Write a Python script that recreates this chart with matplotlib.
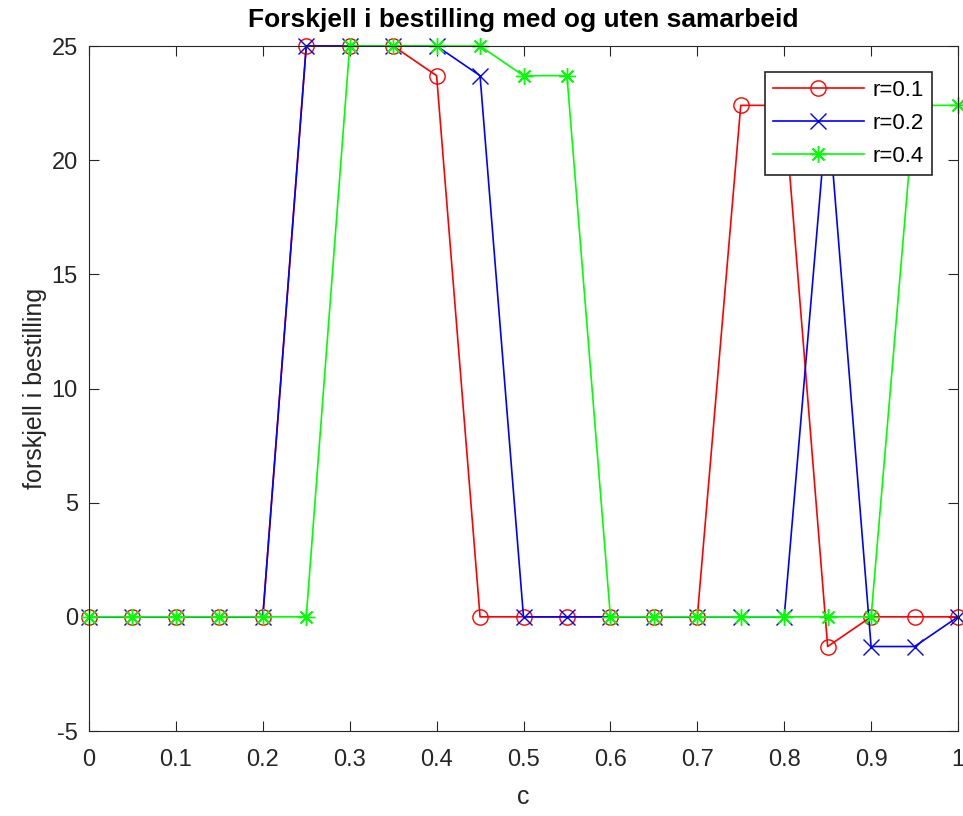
import matplotlib
matplotlib.use('Agg')
import matplotlib.pyplot as plt
import numpy as np

c = np.arange(0, 1.0001, 0.05)

r01 = [0, 0, 0, 0, 0, 25, 25, 25, 23.7, 0, 0, 0, 0, 0, 0, 22.4, 22.4, -1.3, 0, 0, 0]
r02 = [0, 0, 0, 0, 0, 25, 25, 25, 25, 23.7, 0, 0, 0, 0, 0, 0, 0, 22.4, -1.3, -1.3, 0]
r04 = [0, 0, 0, 0, 0, 0, 25, 25, 25, 25, 23.7, 23.7, 0, 0, 0, 0, 0, 0, 0, 22.4, 22.4]

plt.rcParams['font.family'] = ['Liberation Sans', 'DejaVu Sans']
plt.rcParams['axes.unicode_minus'] = False

fig = plt.figure(figsize=(9.63, 8.16), dpi=100)
ax = fig.add_axes([89/963, 1 - 731/816, (958-89)/963, (731-46)/816])

ax.plot(c, r01, '-o', color='r', linewidth=1.2, markersize=11, markerfacecolor='none',
        clip_on=False, label='r=0.1')
ax.plot(c, r02, '-x', color='b', linewidth=1.2, markersize=11, clip_on=False, label='r=0.2')
ax.plot(c, r04, '-', marker=(8, 2, 0), color=(0, 1, 0), linewidth=1.2, markersize=12,
        clip_on=False, label='r=0.4')

ax.set_xlim(0, 1)
ax.set_ylim(-5, 25)
ax.set_xticks(np.arange(0, 1.01, 0.1))
ax.set_xticklabels(['0', '0.1', '0.2', '0.3', '0.4', '0.5', '0.6', '0.7', '0.8', '0.9', '1'])
ax.set_yticks(np.arange(-5, 26, 5))
ax.tick_params(direction='in', top=True, right=True, labelsize=17, length=7, colors='#262626')
ax.tick_params(axis='x', pad=13)
ax.tick_params(axis='y', pad=8)
for s in ax.spines.values():
    s.set_color('#262626')

ax.set_title('Forskjell i bestilling med og uten samarbeid', fontsize=19, fontweight='bold', pad=14)
ax.set_xlabel('c', fontsize=18, color='#262626', labelpad=10)
ax.set_ylabel('forskjell i bestilling', fontsize=18, color='#262626', labelpad=3)

leg = ax.legend(loc='upper right', bbox_to_anchor=(932/963, 1 - 72/816), bbox_transform=fig.transFigure,
                fontsize=16, fancybox=False, framealpha=1, edgecolor='#262626',
                handlelength=4.1, handletextpad=0.4, borderpad=0.35, labelspacing=0.55,
                borderaxespad=0)
leg.get_frame().set_linewidth(1.2)

fig.savefig('out.png', dpi=100)
